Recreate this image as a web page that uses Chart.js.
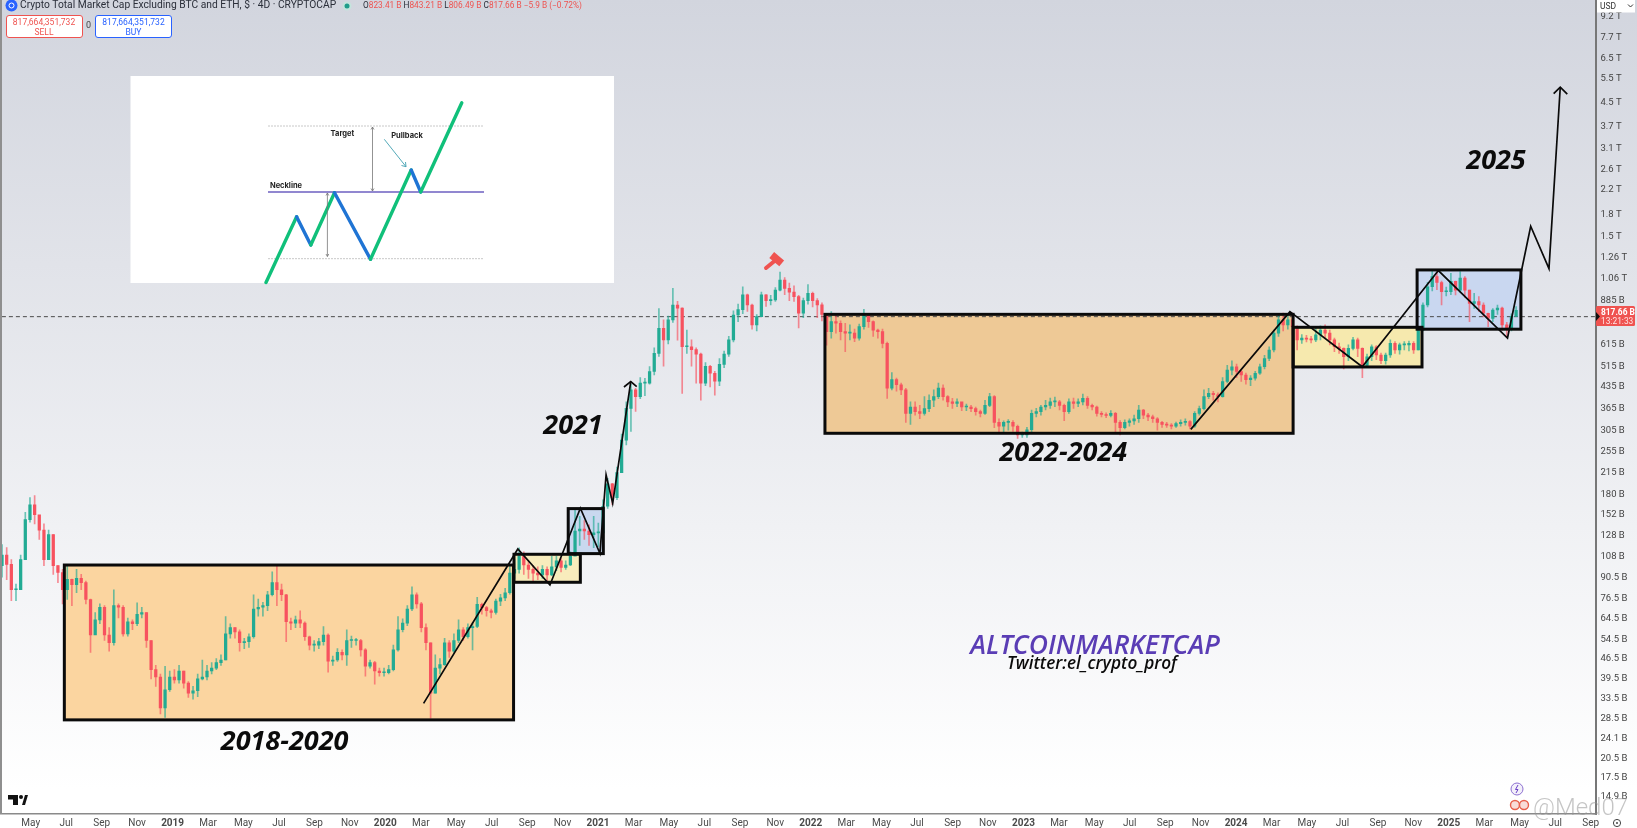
<!DOCTYPE html>
<html>
<head>
<meta charset="utf-8">
<title>Crypto Total Market Cap Excluding BTC and ETH</title>
<script src="https://cdn.jsdelivr.net/npm/chart.js"></script>
<style>
    html, body { margin: 0; padding: 0; }
    body {
        width: 1637px; height: 828px; overflow: hidden; position: relative;
        background: linear-gradient(180deg, #d2d5de 0px, #ffffff 790px);
        font-family: Roboto, sans-serif;
    }
    #wrap { position: absolute; left: 0; top: 0; width: 1637px; height: 828px; }
    #overlay { position: absolute; left: 0; top: 0; pointer-events: none; }
    .txt { position: absolute; white-space: nowrap; line-height: 1; }
    .year { font: italic 700 27px "Open Sans", sans-serif; color: #0b0b0b; transform: translate(-50%, -50%); }
    .red { color: #ef5350; }
    .btn { position: absolute; top: 15px; height: 20px; width: 75px; background: #fff; border-radius: 3px; text-align: center; font-size: 8.5px; line-height: 10px; padding-top: 1px; }
</style>
</head>
<body>
<div id="wrap"><canvas id="chart"></canvas></div>

<svg id="overlay" width="1637" height="828" xmlns="http://www.w3.org/2000/svg">
    <!-- pasted pattern picture -->
    <rect x="130.5" y="76" width="483.5" height="207" fill="#ffffff"/>
    <line x1="268" y1="126" x2="484" y2="126" stroke="#c8c8c8" stroke-width="1" stroke-dasharray="2 1"/>
    <line x1="268" y1="258.7" x2="484" y2="258.7" stroke="#c8c8c8" stroke-width="1" stroke-dasharray="2 1"/>
    <line x1="268" y1="192" x2="484" y2="192" stroke="#6d5fc0" stroke-width="1.5"/>
    <g stroke-width="3.4" fill="none" stroke-linecap="round">
        <line x1="266" y1="282.5" x2="296.6" y2="216.7" stroke="#10c07a"/>
        <line x1="296.6" y1="216.7" x2="310.8" y2="245" stroke="#1f74d4"/>
        <line x1="310.8" y1="245" x2="334.5" y2="192.7" stroke="#10c07a"/>
        <line x1="334.5" y1="192.7" x2="370.5" y2="259.3" stroke="#1f74d4"/>
        <line x1="370.5" y1="259.3" x2="411.2" y2="170" stroke="#10c07a"/>
        <line x1="411.2" y1="170" x2="420.7" y2="192" stroke="#1f74d4"/>
        <line x1="420.7" y1="192" x2="461.8" y2="102.7" stroke="#10c07a"/>
    </g>
    <g stroke="#777" stroke-width="0.8" fill="none">
        <path d="M372.5 127V191M371 129.5L372.5 127L374 129.5M371 188.5L372.5 191L374 188.5"/>
        <path d="M327.4 193V256.5M326 195.5L327.4 193L328.8 195.5M326 254L327.4 256.5L328.8 254"/>
    </g>
    <path d="M384.3 139.3L406 166.7M401.5 165.5L406 166.7L405.5 162" stroke="#3f9fb0" stroke-width="0.9" fill="none"/>
    <g font-family="Inter, sans-serif" font-weight="700" font-size="7.5" fill="#222" text-anchor="middle">
        <text x="342.4" y="136.3">Target</text>
        <text x="407" y="137.7">Pullback</text>
        <text x="286" y="187.7">Neckline</text>
    </g>
    <!-- hammer -->
    <line x1="766" y1="268" x2="777" y2="259" stroke="#ef5350" stroke-width="4" stroke-linecap="round"/>
    <line x1="771.7" y1="255" x2="781.7" y2="263.3" stroke="#ef5350" stroke-width="7.5"/>
    <!-- tradingview mark -->
    <g fill="#111">
        <path d="M8 795H18V805H13V799.5H8Z"/>
        <circle cx="21" cy="797" r="2"/>
        <path d="M22 805L25 795H28L25 805Z"/>
    </g>
    <!-- pane frame -->
    <rect x="0" y="0" width="2" height="814" fill="#8f8f8f"/>
    <!-- toolbar icons and watermark -->
    <circle cx="1517" cy="789" r="6" fill="#f3f0fa" stroke="#8c6fd0" stroke-width="1"/>
    <path d="M1518 785L1515.5 789.5H1518L1516 793" stroke="#6a40c8" stroke-width="1" fill="none"/>
    <circle cx="1515" cy="805" r="4.5" fill="#f8dcd8" stroke="#e8604c" stroke-width="1.4"/>
    <circle cx="1524" cy="805" r="4.5" fill="#f8dcd8" stroke="#e8604c" stroke-width="1.4"/>
    <circle cx="1617" cy="823" r="3.6" fill="none" stroke="#444" stroke-width="1"/>
    <circle cx="1617" cy="823" r="1" fill="#444"/>
    <text x="1533" y="815" font-family="Roboto, sans-serif" font-size="24" font-weight="300" fill="rgba(150,150,150,0.55)">@Med07</text>
    <!-- price marker -->
    <rect x="1596" y="306" width="39" height="20" rx="1.5" fill="#ef5350"/>
    <path d="M1596 312L1600 316.5L1596 321Z" fill="#111"/>
    <text x="1601" y="314.5" font-size="8.4" font-weight="700" fill="#fff">817.66 B</text>
    <text x="1601" y="324" font-size="8.4" fill="#ffe6e6">13:21:33</text>
    <!-- currency button -->
    <rect x="1597" y="0" width="38" height="12.5" fill="#ffffff"/>
    <text x="1600" y="9" font-size="8.5" fill="#333">USD</text>
    <path d="M1628 4.5L1630.5 7L1633 4.5" stroke="#333" fill="none"/>
</svg>

<!-- chart header -->
<svg style="position:absolute;left:5px;top:0" width="14" height="12"><circle cx="6.5" cy="5.5" r="6" fill="#2962ff"/><circle cx="6.5" cy="5.5" r="2.5" fill="none" stroke="#fff"/></svg>
<div class="txt" style="left:20px;top:0;font-size:10.25px;color:#2a2e39">Crypto Total Market Cap Excluding BTC and ETH, $ · 4D · CRYPTOCAP</div>
<svg style="position:absolute;left:341px;top:1px" width="12" height="10"><circle cx="6" cy="5" r="4.5" fill="#c4e4dc"/><circle cx="6" cy="5" r="2.5" fill="#1f9d8a"/></svg>
<div class="txt" style="left:363px;top:1px;font-size:8.3px;color:#2a2e39">O<span class="red">823.41 B</span> H<span class="red">843.21 B</span> L<span class="red">806.49 B</span> C<span class="red">817.66 B</span> <span class="red">−5.9 B (−0.72%)</span></div>
<div class="btn" style="left:5.5px;border:1px solid #ef5350;color:#ef5350">817,664,351,732<br>SELL</div>
<div class="txt" style="left:86px;top:21px;font-size:9px;color:#444">0</div>
<div class="btn" style="left:95px;border:1px solid #2962ff;color:#2962ff">817,664,351,732<br>BUY</div>

<!-- drawn labels -->
<div class="txt year" style="left:284.6px;top:739px">2018-2020</div>
<div class="txt year" style="left:573px;top:423px">2021</div>
<div class="txt year" style="left:1063.3px;top:449.5px">2022-2024</div>
<div class="txt year" style="left:1496px;top:158px">2025</div>
<div class="txt" style="left:1095px;top:644px;transform:translate(-50%,-50%);font:italic 600 26.5px 'Open Sans',sans-serif;color:#5a3db5">ALTCOINMARKETCAP</div>
<div class="txt" style="left:1092px;top:662px;transform:translate(-50%,-50%);font:italic 600 17.2px 'Open Sans',sans-serif;color:#0b0b0b">Twitter:el_crypto_prof</div>

<script>
// 8-day candles, prices in billions of USD
const firstBarYear = 2018.198;
const barStepYears = 8 / 365.25;
const firstOpen = 100;

const closes = [
    109,101,82,82,105,146,165,152,134,105,129,100,94.5,82,
    89.3,85.5,90,87,75.7,56.5,64,71,56.5,53,72,71,57,63,62,67,68,54,42.5,40,31,36,40,39,42,38,35,35.7,39.4,40,42,43,45,46,57,60,58,53,53.5,55.7,70,71,72,78.7,87,82,78.7,63,62.3,64,62.3,55.7,52,52,53.5,56.5,45.6,46,49,48,54,54,54,50,43.7,45,42,41.4,41.4,42.5,50,59,62.3,70,78.7,73,60,53,35,43,44.3,53,49.5,54,59,55.7,60,60.6,72.8,70.8,69,68,74.7,76.7,80,94,97,
    108,100.5,97,94,92.6,97,92.6,99,104,98.5,100.5,108,133,135,133,129,131,131,163,196,175,215,281,365,425,402,449,449,494,574,705,641,756,854,832,606,606,592,570,449,516,487,456,524,570,641,787,822,928,854,725,776,928,885,890,965,1049,980,950,915,798,885,940,885,855,790,
    686,745,735,686,678,678,650,715,790,745,695,686,623,431,462,443,425,350,369,355,350,364,390,402,431,402,385,380,385,369,369,364,355,350,374,402,325,315,325,325,315,293,293,306,350,355,369,374,385,385,374,355,385,380,385,396,374,369,350,347,344,350,325,311,325,329,335,360,345,340,335,325,320,318,315,322,325,327,315,350,364,402,413,408,402,455,500,514,494,480,462,468,487,514,550,590,678,756,725,756,715,
    641,650,645,641,668,695,678,641,606,598,558,598,641,598,520,558,606,566,540,566,623,590,615,615,623,590,695,854,993,1080,1028,953,953,1037,965,1065,965,866,878,854,798,765,820,832,725,705,778,817.66
];
const highs = [
    119,116,105,86,109,155,175,178,143,141,134,129,100,97,
    100.5,89.5,97,93,88,76,68,73,72,60,82,73,72,65,64,73.7,71,68,54,44,41,43.7,42,42.5,44,42,38.5,37,41,46,44,45,46.5,48,65.8,62,60,59,55,57,78.7,76,74,81,95,100.5,86,79,65,66,69,63,56,54,55,60.6,57,47.5,50.5,50,59,56,55,54.5,50.5,46,45.5,43,43,44,52,65.8,64.5,72,84,80,74,62,53,48,46.5,55,54,57,64,60,62,62.5,77,73.5,71.5,70,76,79,83,100.5,105,
    115.7,112,104,100,99,100,99,108,108,106,104,112,160,150,145,140,150,142,172,205,197,225,295,385,445,430,470,467,515,600,829,756,780,980,880,835,695,641,600,575,532,520,495,550,585,660,815,860,993,935,860,790,950,930,925,985,1120,1070,1024,1000,925,905,1010,950,900,870,
    790,810,798,750,735,725,700,730,825,795,750,700,700,630,490,468,449,430,385,385,374,402,408,425,449,443,405,396,395,380,378,374,369,360,390,413,405,335,329,333,330,318,300,312,360,365,374,390,397,400,390,378,395,397,395,410,402,378,372,355,352,358,353,330,332,335,345,374,362,350,345,338,328,325,322,326,332,335,330,355,372,425,430,420,415,470,520,540,525,500,488,478,495,525,565,605,695,785,800,785,800,
    720,670,665,660,705,720,725,695,650,625,600,615,655,650,600,570,615,612,575,575,641,632,625,632,635,632,705,870,1030,1140,1120,1040,990,1108,1040,1125,1080,965,940,915,870,800,830,854,840,740,795,843
];
const lows = [
    91,89,75,75,82,119,143,141,124,100,105,93,87,73,
    75.7,72,80,82,73,49,58,62,54,49.5,52,65,56,56,59,61,65,51,39.4,37,29.5,28.7,35.5,38,38,36.5,33.8,33.3,34,39,39,41,42.5,44,46,55,55,49.5,50.5,51,55,66,66,69,78,72,75,53.5,59,60,60,54,50,49.5,50.5,52,41.6,44,45.5,46,44,51,52,47.5,40.3,43,37.7,40.3,40.3,41,42,49.5,58,61,69,70.5,58,50,28.5,35,41,44,47,49,53,54,55,50,60,67,66,65,67,72,75,79,90,
    94,93,90,88,89,90,88,92,96,95,97,100,116,118,124,118,116,117,128,160,165,172,215,270,302,356,395,405,445,480,560,516,620,740,640,413,574,516,449,390,440,435,407,440,510,560,630,745,795,810,700,690,790,845,855,880,960,930,885,880,707,770,860,840,770,750,
    614,650,678,641,582,641,632,640,700,710,660,650,600,396,425,420,408,325,320,345,335,345,355,370,395,390,370,365,370,358,358,355,345,340,347,370,311,297,300,305,302,285,287,287,300,340,345,360,365,370,360,330,350,365,370,375,365,360,342,340,338,340,300,293,308,315,320,325,335,330,325,305,312,312,308,312,315,318,308,312,345,360,395,390,385,400,450,480,470,455,445,440,460,482,505,540,580,660,690,700,670,
    590,623,630,625,632,641,650,615,582,574,505,540,590,558,470,510,540,545,527,525,555,574,570,590,585,574,590,690,840,960,970,855,920,930,928,950,910,745,830,810,775,715,745,790,695,655,690,806
];

// The dashed price line sits lower on the reference than the 817.66 label says, so it keeps its own level
const priceLineLevel = 776;

// Price axis
const priceTicks = [9200,7700,6500,5500,4500,3700,3100,2600,2200,1800,1500,1260,1060,885,735,615,515,435,365,305,255,215,180,152,128,108,90.5,76.5,64.5,54.5,46.5,39.5,33.5,28.5,24.1,20.5,17.5,14.9];
const priceLabels = ['9.2 T','7.7 T','6.5 T','5.5 T','4.5 T','3.7 T','3.1 T','2.6 T','2.2 T','1.8 T','1.5 T','1.26 T','1.06 T','885 B','735 B','615 B','515 B','435 B','365 B','305 B','255 B','215 B','180 B','152 B','128 B','108 B','90.5 B','76.5 B','64.5 B','54.5 B','46.5 B','39.5 B','33.5 B','28.5 B','24.1 B','20.5 B','17.5 B','14.9 B'];

// Time axis
const timeTicks = [2018.333,2018.5,2018.667,2018.833,2019,2019.167,2019.333,2019.5,2019.667,2019.833,2020,2020.167,2020.333,2020.5,2020.667,2020.833,2021,2021.167,2021.333,2021.5,2021.667,2021.833,2022,2022.167,2022.333,2022.5,2022.667,2022.833,2023,2023.167,2023.333,2023.5,2023.667,2023.833,2024,2024.167,2024.333,2024.5,2024.667,2024.833,2025,2025.167,2025.333,2025.5,2025.667];
const timeLabels = ['May','Jul','Sep','Nov','2019','Mar','May','Jul','Sep','Nov','2020','Mar','May','Jul','Sep','Nov','2021','Mar','May','Jul','Sep','Nov','2022','Mar','May','Jul','Sep','Nov','2023','Mar','May','Jul','Sep','Nov','2024','Mar','May','Jul','Sep','Nov','2025','Mar','May','Jul','Sep'];

// Drawn boxes: year from, year to, price top, price bottom
const boxStart = [2018.491, 2020.605, 2020.860, 2022.067, 2024.268, 2024.851];
const boxEnd = [2020.603, 2020.917, 2021.025, 2024.268, 2024.874, 2025.339];
const boxTop = [100.5, 109.8, 159.9, 791, 711, 1140];
const boxBottom = [28.1, 87.2, 110.4, 297.2, 513, 700];
const boxFill = ['#fbd5a0', '#f8ecbc', '#c9d8ef', '#eec996', '#f6e9ae', '#c9d7f0'];

// Drawn zigzags: years and prices
const pathOneYears = [2020.180, 2020.623, 2020.774, 2020.917, 2021.009, 2021.038, 2021.069, 2021.154];
const pathOnePrices = [32.2, 114.7, 85.3, 160.4, 110.7, 211, 167, 455];
const headOneYears = [2021.122, 2021.154, 2021.182];
const headOnePrices = [435, 455, 436];
const pathTwoYears = [2023.787, 2024.253, 2024.593, 2024.951, 2025.276, 2025.385, 2025.471, 2025.524];
const pathTwoPrices = [307, 809, 514, 1134, 651, 1633, 1152, 5127];
const headTwoYears = [2025.493, 2025.524, 2025.557];
const headTwoPrices = [4865, 5127, 4843];

const upColor = '#22ab94';
const downColor = '#f7525f';
const xAt = i => firstBarYear + i * barStepYears;
const openAt = i => (i === 0 ? firstOpen : closes[i - 1]);

const wickData = closes.map((c, i) => ({ x: xAt(i), y: [lows[i], highs[i]] }));
const bodyData = closes.map((c, i) => ({ x: xAt(i), y: [openAt(i), c] }));
const barColors = closes.map((c, i) => (c >= openAt(i) ? upColor : downColor));
const wickColors = barColors.map(c => c + 'a6');

const toPoints = (xs, ys) => xs.map((x, i) => ({ x: x, y: ys[i] }));
const inkLine = (xs, ys, width) => ({
    type: 'line',
    data: toPoints(xs, ys),
    borderColor: '#0a0a0a',
    borderWidth: width,
    pointRadius: 0,
    tension: 0,
    order: 0
});

// Boxes sit under the candles, their frames over them
const boxesPlugin = {
    id: 'boxes',
    beforeDatasetsDraw(chart) {
        const { ctx, scales } = chart;
        ctx.save();
        boxStart.forEach((s, i) => {
            const x0 = scales.x.getPixelForValue(s);
            const x1 = scales.x.getPixelForValue(boxEnd[i]);
            const y0 = scales.y.getPixelForValue(boxTop[i]);
            const y1 = scales.y.getPixelForValue(boxBottom[i]);
            ctx.fillStyle = boxFill[i];
            ctx.fillRect(x0, y0, x1 - x0, y1 - y0);
        });
        ctx.restore();
    },
    afterDatasetsDraw(chart) {
        const { ctx, scales } = chart;
        ctx.save();
        ctx.strokeStyle = '#0a0a0a';
        ctx.lineWidth = 3;
        boxStart.forEach((s, i) => {
            const x0 = scales.x.getPixelForValue(s);
            const x1 = scales.x.getPixelForValue(boxEnd[i]);
            const y0 = scales.y.getPixelForValue(boxTop[i]);
            const y1 = scales.y.getPixelForValue(boxBottom[i]);
            ctx.strokeRect(x0, y0, x1 - x0, y1 - y0);
        });
        ctx.restore();
    }
};

new Chart(document.getElementById('chart').getContext('2d'), {
    type: 'bar',
    data: {
        datasets: [
            {
                type: 'line',
                data: [{ x: 2018, y: priceLineLevel }, { x: 2026, y: priceLineLevel }],
                borderColor: '#4a4a4a',
                borderWidth: 1,
                borderDash: [4, 3],
                pointRadius: 0,
                order: 3
            },
            {
                data: wickData,
                backgroundColor: wickColors,
                barThickness: 1,
                grouped: false,
                order: 2
            },
            {
                data: bodyData,
                backgroundColor: barColors,
                barThickness: 2.6,
                minBarLength: 1,
                grouped: false,
                order: 1
            },
            inkLine(pathOneYears, pathOnePrices, 1.7),
            inkLine(headOneYears, headOnePrices, 1.7),
            inkLine(pathTwoYears, pathTwoPrices, 1.7),
            inkLine(headTwoYears, headTwoPrices, 1.7)
        ]
    },
    options: {
        responsive: true,
        maintainAspectRatio: false,
        animation: false,
        layout: { padding: 0 },
        plugins: {
            legend: { display: false },
            title: { display: false },
            tooltip: { enabled: false }
        },
        scales: {
            x: {
                type: 'linear',
                min: 2018.1885,
                max: 2025.6897,
                offset: false,
                grid: { display: false, drawTicks: false },
                border: { color: '#8a8a8a', width: 1.5 },
                afterBuildTicks(axis) {
                    axis.ticks = timeTicks.map(v => ({ value: v }));
                },
                afterFit(axis) {
                    axis.height = 14;
                    axis.paddingLeft = 0;
                    axis.paddingRight = 0;
                },
                ticks: {
                    autoSkip: false,
                    maxRotation: 0,
                    padding: 3,
                    color: '#4a4a4a',
                    font: ctx => ({
                        family: 'Roboto',
                        size: 10,
                        weight: ctx.tick && /^\d/.test(ctx.tick.label) ? '700' : '400'
                    }),
                    callback: (value, index) => timeLabels[index]
                }
            },
            y: {
                type: 'logarithmic',
                position: 'right',
                min: 12.95,
                max: 10513,
                grid: { display: false, drawTicks: false },
                border: { color: '#777777', width: 2 },
                afterBuildTicks(axis) {
                    axis.ticks = priceTicks.map(v => ({ value: v }));
                },
                afterFit(axis) {
                    axis.width = 41.5;
                    axis.paddingTop = 0;
                    axis.paddingBottom = 0;
                },
                ticks: {
                    autoSkip: false,
                    padding: 5,
                    crossAlign: 'near',
                    color: '#444444',
                    font: { family: 'Roboto', size: 9.5 },
                    callback: (value, index) => priceLabels[index]
                }
            }
        }
    },
    plugins: [boxesPlugin]
});
</script>
</body>
</html>
